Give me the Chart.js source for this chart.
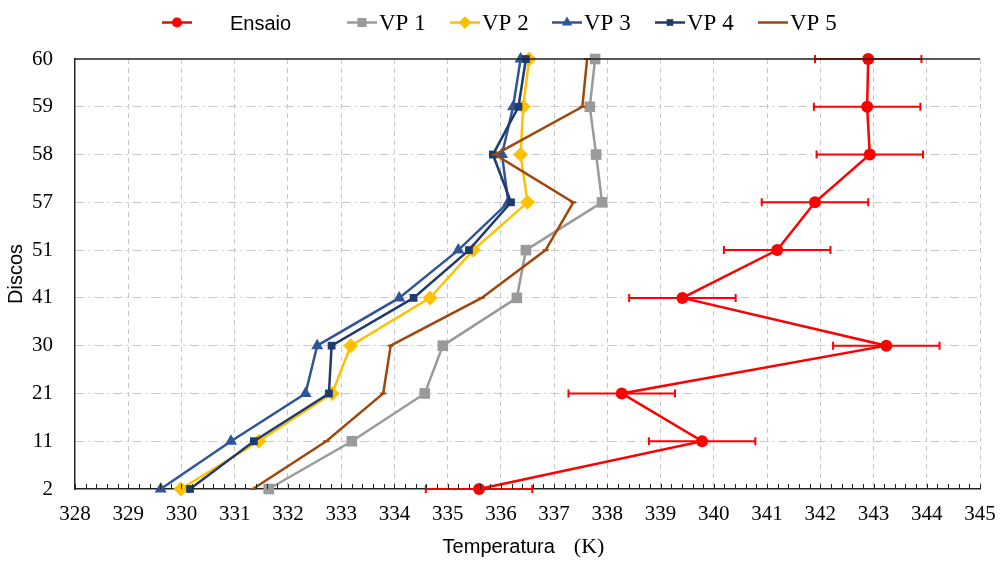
<!DOCTYPE html>
<html><head><meta charset="utf-8">
<script src="https://cdn.jsdelivr.net/npm/chart.js@4.4.1/dist/chart.umd.min.js"></script>
<style>html,body{margin:0;padding:0;background:#fff}#wrap{width:1003px;height:563px}</style>
</head><body><div id="wrap"><canvas id="c" width="1003" height="563"></canvas></div>
<script>
// ---- data ----
const categories = ['60','59','58','57','51','41','30','21','11','2'];
const ensaio    = [342.90, 342.88, 342.93, 341.90, 341.19, 339.41, 343.24, 338.27, 339.78, 335.59];
const ensaioErr = [1.0, 1.0, 1.0, 1.0, 1.0, 1.0, 1.0, 1.0, 1.0, 1.0];
const vp1 = [337.77, 337.67, 337.79, 337.90, 336.47, 336.30, 334.91, 334.57, 333.20, 331.64];
const vp2 = [336.53, 336.42, 336.37, 336.50, 335.48, 334.67, 333.18, 332.83, 331.45, 329.99];
const vp3 = [336.37, 336.23, 336.02, 336.14, 335.20, 334.09, 332.55, 332.33, 330.93, 329.61];
const vp4 = [336.47, 336.33, 335.85, 336.19, 335.40, 334.36, 332.82, 332.77, 331.36, 330.16];
const vp5 = [337.62, 337.53, 335.89, 337.36, 336.84, 335.64, 333.93, 333.79, 332.72, 331.34];
const seriesNames = ['Ensaio', 'VP 1', 'VP 2', 'VP 3', 'VP 4', 'VP 5'];
const xMin = 328, xMax = 345, xStep = 1, xMinorStep = 0.2;

const toPts = arr => arr.map((v, i) => ({x: v, y: categories[i]}));

const styles = [
  {color:'#FF0000', pointStyle:'circle',   radius:6,   width:2.5},
  {color:'#9A9A9A', pointStyle:'rect',     radius:7.5, width:2.5},
  {color:'#FFC000', pointStyle:'rectRot',  radius:7.5, width:2.5},
  {color:'#2F5597', pointStyle:'triangle', radius:7,   width:2.5},
  {color:'#1F3A6E', pointStyle:'rect',     radius:5.5, width:2.5},
  {color:'#9E480E', pointStyle:'line',     radius:3,   width:2.5}
];
const allSeries = [ensaio, vp1, vp2, vp3, vp4, vp5];

const datasets = allSeries.map((arr, k) => ({
  label: seriesNames[k],
  data: toPts(arr),
  borderColor: styles[k].color,
  backgroundColor: styles[k].color,
  pointBackgroundColor: styles[k].color,
  pointBorderColor: styles[k].color,
  pointBorderWidth: k === 5 ? 2 : 0,
  pointStyle: styles[k].pointStyle,
  pointRadius: styles[k].radius,
  borderWidth: styles[k].width,
  tension: 0,
  clip: false,
  order: k === 0 ? 0 : 7 - k
}));

const SERIF = '"Liberation Serif", "Times New Roman", serif';
const SANS = '"Liberation Sans", Arial, sans-serif';

const decor = {
  id: 'decor',
  beforeDatasetsDraw(chart) {
    const {ctx, scales: {x, y}} = chart;
    ctx.save();
    ctx.strokeStyle = styles[0].color;
    ctx.lineWidth = 2;
    ensaio.forEach((v, i) => {
      const py = y.getPixelForValue(i);
      const x1 = x.getPixelForValue(v - ensaioErr[i]);
      const x2 = x.getPixelForValue(v + ensaioErr[i]);
      ctx.beginPath();
      ctx.moveTo(x1, py); ctx.lineTo(x2, py);
      ctx.moveTo(x1, py - 4); ctx.lineTo(x1, py + 4);
      ctx.moveTo(x2, py - 4); ctx.lineTo(x2, py + 4);
      ctx.stroke();
    });
    ctx.restore();
  },
  afterDraw(chart) {
    const {ctx, chartArea: a, scales: {x}} = chart;
    ctx.save();
    // top border
    ctx.strokeStyle = '#222';
    ctx.lineWidth = 1.5;
    ctx.beginPath(); ctx.moveTo(a.left, a.top); ctx.lineTo(a.right, a.top); ctx.stroke();
    // minor ticks on x axis (pointing inward)
    ctx.strokeStyle = '#222';
    ctx.lineWidth = 1;
    const n = Math.round((xMax - xMin) / xMinorStep);
    ctx.beginPath();
    for (let i = 0; i <= n; i++) {
      const px = Math.round(x.getPixelForValue(xMin + i * xMinorStep)) + 0.5;
      ctx.moveTo(px, a.bottom); ctx.lineTo(px, a.bottom - 5);
    }
    ctx.stroke();
    // x title with mixed fonts
    ctx.fillStyle = '#000';
    ctx.textBaseline = 'alphabetic';
    ctx.font = '20px ' + SANS;
    const t1 = 'Temperatura';
    const w1 = ctx.measureText(t1).width;
    ctx.font = '22px ' + SERIF;
    const t2 = '(K)';
    const w2 = ctx.measureText(t2).width;
    const gap = 19;
    const x0 = (a.left + a.right) / 2 - 4 - (w1 + gap + w2) / 2;
    ctx.font = '20px ' + SANS;
    ctx.fillText(t1, x0, 553);
    ctx.font = '22px ' + SERIF;
    ctx.fillText(t2, x0 + w1 + gap, 553);
    // legend
    const lx = [162, 347, 450, 552, 655, 758];
    const ly = 22.5;
    const segW = 30;
    chart.data.datasets.forEach((ds, k) => {
      const st = styles[k];
      const sx = lx[k];
      ctx.strokeStyle = st.color;
      ctx.fillStyle = st.color;
      ctx.lineWidth = 2.5;
      ctx.beginPath(); ctx.moveTo(sx, ly); ctx.lineTo(sx + segW, ly); ctx.stroke();
      if (k !== 5 && Chart.helpers && Chart.helpers.drawPoint) {
        Chart.helpers.drawPoint(ctx, {pointStyle: st.pointStyle, radius: st.radius * 0.85, borderWidth: 0, rotation: 0}, sx + segW / 2, ly);
      }
      ctx.fillStyle = '#000';
      if (k === 0) {
        ctx.font = '20px ' + SANS;
        ctx.fillText(ds.label, sx + segW + 38, 29.5);
      } else {
        ctx.font = '23px ' + SERIF;
        ctx.fillText(ds.label, sx + segW + 2, 30);
      }
    });
    ctx.restore();
  }
};

new Chart(document.getElementById('c'), {
  type: 'line',
  data: { labels: categories, datasets },
  options: {
    responsive: false,
    animation: false,
    indexAxis: 'y',
    layout: { padding: { top: 59, right: 23, left: 0, bottom: 0 } },
    plugins: { legend: { display: false }, tooltip: { enabled: false } },
    scales: {
      x: {
        type: 'linear', position: 'bottom', min: xMin, max: xMax,
        ticks: { stepSize: xStep, color: '#000', font: { family: SERIF, size: 21 }, padding: 13, maxRotation: 0, autoSkip: false },
        grid: { color: ctx => (ctx.index === 0 ? 'rgba(0,0,0,0)' : '#C8C8C8'), lineWidth: 1, drawTicks: false },
        border: { display: true, color: '#222', width: 1.5, dash: [5, 4] },
        afterFit: s => { s.height = 74; s.paddingLeft = 0; s.paddingRight = 0; }
      },
      y: {
        type: 'category', labels: categories, position: 'left', offset: false,
        ticks: { color: '#000', font: { family: SERIF, size: 21 }, padding: 22, autoSkip: false },
        grid: { color: ctx => (ctx.index === 0 || ctx.index === categories.length - 1 ? 'rgba(0,0,0,0)' : '#C8C8C8'), lineWidth: 1, drawTicks: false },
        border: { display: true, color: '#222', width: 1.5, dash: [9, 4, 2, 4] },
        title: { display: true, text: 'Discos', color: '#000', font: { family: SANS, size: 20 }, padding: { top: 4, bottom: 4 } },
        afterFit: s => { s.width = 75; s.paddingTop = 0; s.paddingBottom = 0; }
      }
    }
  },
  plugins: [decor]
});
</script>
</body></html>
